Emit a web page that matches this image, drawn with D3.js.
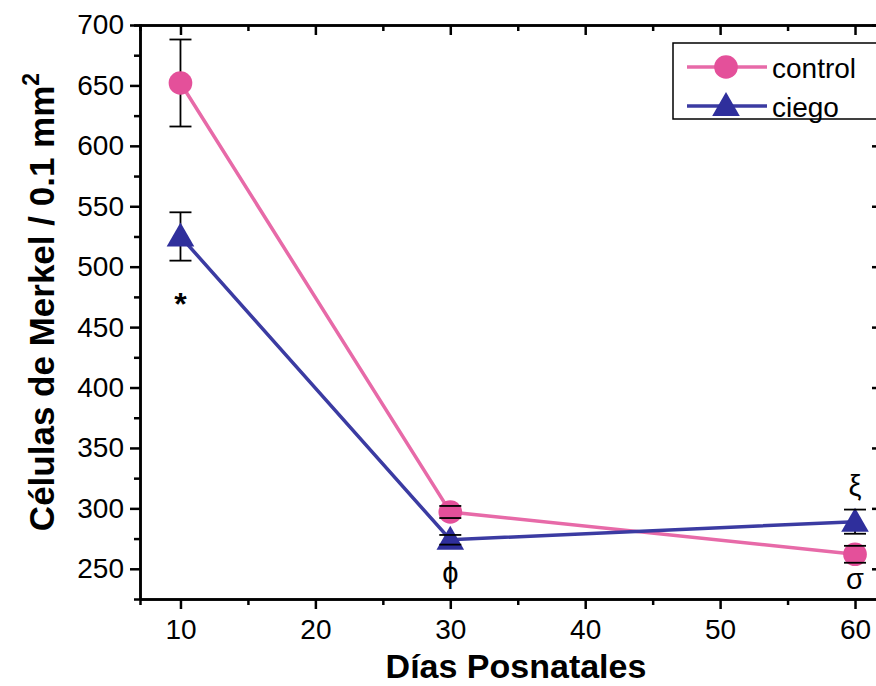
<!DOCTYPE html>
<html>
<head>
<meta charset="utf-8">
<script src="https://cdn.jsdelivr.net/npm/d3@7"></script>
<style>
  body { margin: 0; background: #fff; }
  svg { display: block; font-family: "Liberation Sans", Arial, sans-serif; }
</style>
</head>
<body>
<script>
const width = 876
const height = 686
const pink = "#e4509a"
const pinkLine = "#e76aa8"
const blue = "#2f2f9c"
const blueLine = "#3b3ba2"

// data
const days = [10, 30, 60]
const control = [652, 297, 262]
const controlErr = [36, 5, 7]
const ciego = [525, 274, 289]
const ciegoErr = [20, 4, 10]
const xTicks = [10, 20, 30, 40, 50, 60]
const yTicks = [250, 300, 350, 400, 450, 500, 550, 600, 650, 700]
const notes = [
  {x: 10, y: 460, t: "*", size: 32, bold: true},
  {x: 30, y: 238, t: "ϕ", size: 29, bold: false},
  {x: 60, y: 310, t: "ξ", size: 29, bold: false},
  {x: 60, y: 233, t: "σ", size: 29, bold: false}
]

const plotLeft = 140, plotRight = 882, plotTop = 25, plotBottom = 599

var x = d3.scaleLinear().domain([7, 62]).range([plotLeft, plotRight])
var y = d3.scaleLinear().domain([225, 700]).range([plotBottom, plotTop])

var svg = d3.select("body").append("svg")
    .attr("width", width)
    .attr("height", height)

// axes
function styleAxis(g, fs) {
  g.select(".domain").attr("stroke", "#000").attr("stroke-width", 2.5)
  g.selectAll(".tick line").attr("stroke", "#000").attr("stroke-width", 2.5)
  g.selectAll(".tick text").attr("font-size", fs).attr("fill", "#000")
    .attr("font-family", "Liberation Sans, Arial, sans-serif")
}

var xMinor = d3.range(15, 60, 10)
var yMinor = d3.range(275, 700, 50)

// minor ticks
svg.append("g").attr("transform", `translate(0,${plotBottom})`)
  .call(d3.axisBottom(x).tickValues(xMinor).tickSize(6).tickFormat(""))
  .call(g => styleAxis(g, 0))
svg.append("g").attr("transform", `translate(0,${plotTop})`)
  .call(d3.axisBottom(x).tickValues(xMinor).tickSize(6).tickFormat(""))
  .call(g => styleAxis(g, 0))
svg.append("g").attr("transform", `translate(${plotLeft},0)`)
  .call(d3.axisLeft(y).tickValues(yMinor).tickSize(6).tickFormat(""))
  .call(g => styleAxis(g, 0))
svg.append("g").attr("transform", `translate(${plotRight},0)`)
  .call(d3.axisLeft(y).tickValues(yMinor).tickSize(6).tickFormat(""))
  .call(g => styleAxis(g, 0))

// major ticks
svg.append("g").attr("transform", `translate(0,${plotBottom})`)
  .call(d3.axisBottom(x).tickValues(xTicks).tickSize(10).tickSizeOuter(0).tickPadding(10))
  .call(g => styleAxis(g, 28))
svg.append("g").attr("transform", `translate(0,${plotTop})`)
  .call(d3.axisBottom(x).tickValues(xTicks).tickSize(10).tickSizeOuter(0).tickFormat(""))
  .call(g => styleAxis(g, 0))
svg.append("g").attr("transform", `translate(${plotLeft},0)`)
  .call(d3.axisLeft(y).tickValues(yTicks).tickSize(10).tickSizeOuter(0).tickPadding(6))
  .call(g => styleAxis(g, 28))
svg.append("g").attr("transform", `translate(${plotRight},0)`)
  .call(d3.axisLeft(y).tickValues(yTicks).tickSize(10).tickSizeOuter(0).tickFormat(""))
  .call(g => styleAxis(g, 0))

// axis titles
svg.append("text")
  .attr("x", 516).attr("y", 678)
  .attr("text-anchor", "middle")
  .attr("font-size", 34).attr("font-weight", "bold")
  .text("Días Posnatales")

var yt = svg.append("text")
  .attr("transform", "translate(54,302) rotate(-90)")
  .attr("text-anchor", "middle")
  .attr("font-size", 35).attr("font-weight", "bold")
yt.append("tspan").text("Células de Merkel / 0.1 mm")
yt.append("tspan").attr("dy", -15).attr("font-size", 23).text("2")

var series = [
  {vals: control, err: controlErr, line: pinkLine, fill: pink, shape: "circle"},
  {vals: ciego, err: ciegoErr, line: blueLine, fill: blue, shape: "triangle"}
]

var line = d3.line().x((d, i) => x(days[i])).y(d => y(d))

series.forEach(s => {
  svg.append("path")
    .attr("d", line(s.vals))
    .attr("fill", "none")
    .attr("stroke", s.line)
    .attr("stroke-width", 3.5)
})

// error bar stems (behind markers)
series.forEach(s => {
  svg.selectAll(null).data(s.vals).join("line")
    .attr("x1", (d, i) => x(days[i])).attr("x2", (d, i) => x(days[i]))
    .attr("y1", (d, i) => y(d + s.err[i])).attr("y2", (d, i) => y(d - s.err[i]))
    .attr("stroke", "#000").attr("stroke-width", 1.8)
})

var circleSym = d3.symbol().type(d3.symbolCircle).size(440)
var triSym = d3.symbol().type(d3.symbolTriangle).size(330)

series.forEach(s => {
  svg.selectAll(null).data(s.vals).join("path")
    .attr("transform", (d, i) => `translate(${x(days[i])},${y(d) + (s.shape == "triangle" ? 2 : 0)})`)
    .attr("d", s.shape == "circle" ? circleSym : triSym)
    .attr("fill", s.fill)
})

// error bar caps (on top)
series.forEach(s => {
  s.vals.forEach((d, i) => {
    [d + s.err[i], d - s.err[i]].forEach(v => {
      svg.append("line")
        .attr("x1", x(days[i]) - 11).attr("x2", x(days[i]) + 11)
        .attr("y1", y(v)).attr("y2", y(v))
        .attr("stroke", "#000").attr("stroke-width", 1.8)
    })
  })
})

// significance marks
svg.selectAll(null).data(notes).join("text")
  .attr("x", d => x(d.x)).attr("y", d => y(d.y))
  .attr("text-anchor", "middle")
  .attr("font-size", d => d.size)
  .attr("font-weight", d => d.bold ? "bold" : "normal")
  .text(d => d.t)

// legend
var lg = svg.append("g")
lg.append("rect")
  .attr("x", 673).attr("y", 43).attr("width", 240).attr("height", 76)
  .attr("fill", "#fff").attr("stroke", "#000").attr("stroke-width", 1.5)
var legendItems = [
  {name: "control", line: pinkLine, fill: pink, sym: circleSym, y: 67, dy: 0},
  {name: "ciego", line: blueLine, fill: blue, sym: triSym, y: 106, dy: 2}
]
legendItems.forEach(d => {
  lg.append("line").attr("x1", 687).attr("x2", 767).attr("y1", d.y).attr("y2", d.y)
    .attr("stroke", d.line).attr("stroke-width", 3.5)
  lg.append("path").attr("d", d.sym)
    .attr("transform", `translate(726,${d.y + d.dy})`)
    .attr("fill", d.fill)
  lg.append("text").attr("x", 772).attr("y", d.y + 11)
    .attr("font-size", 28).text(d.name)
})
</script>
</body>
</html>
